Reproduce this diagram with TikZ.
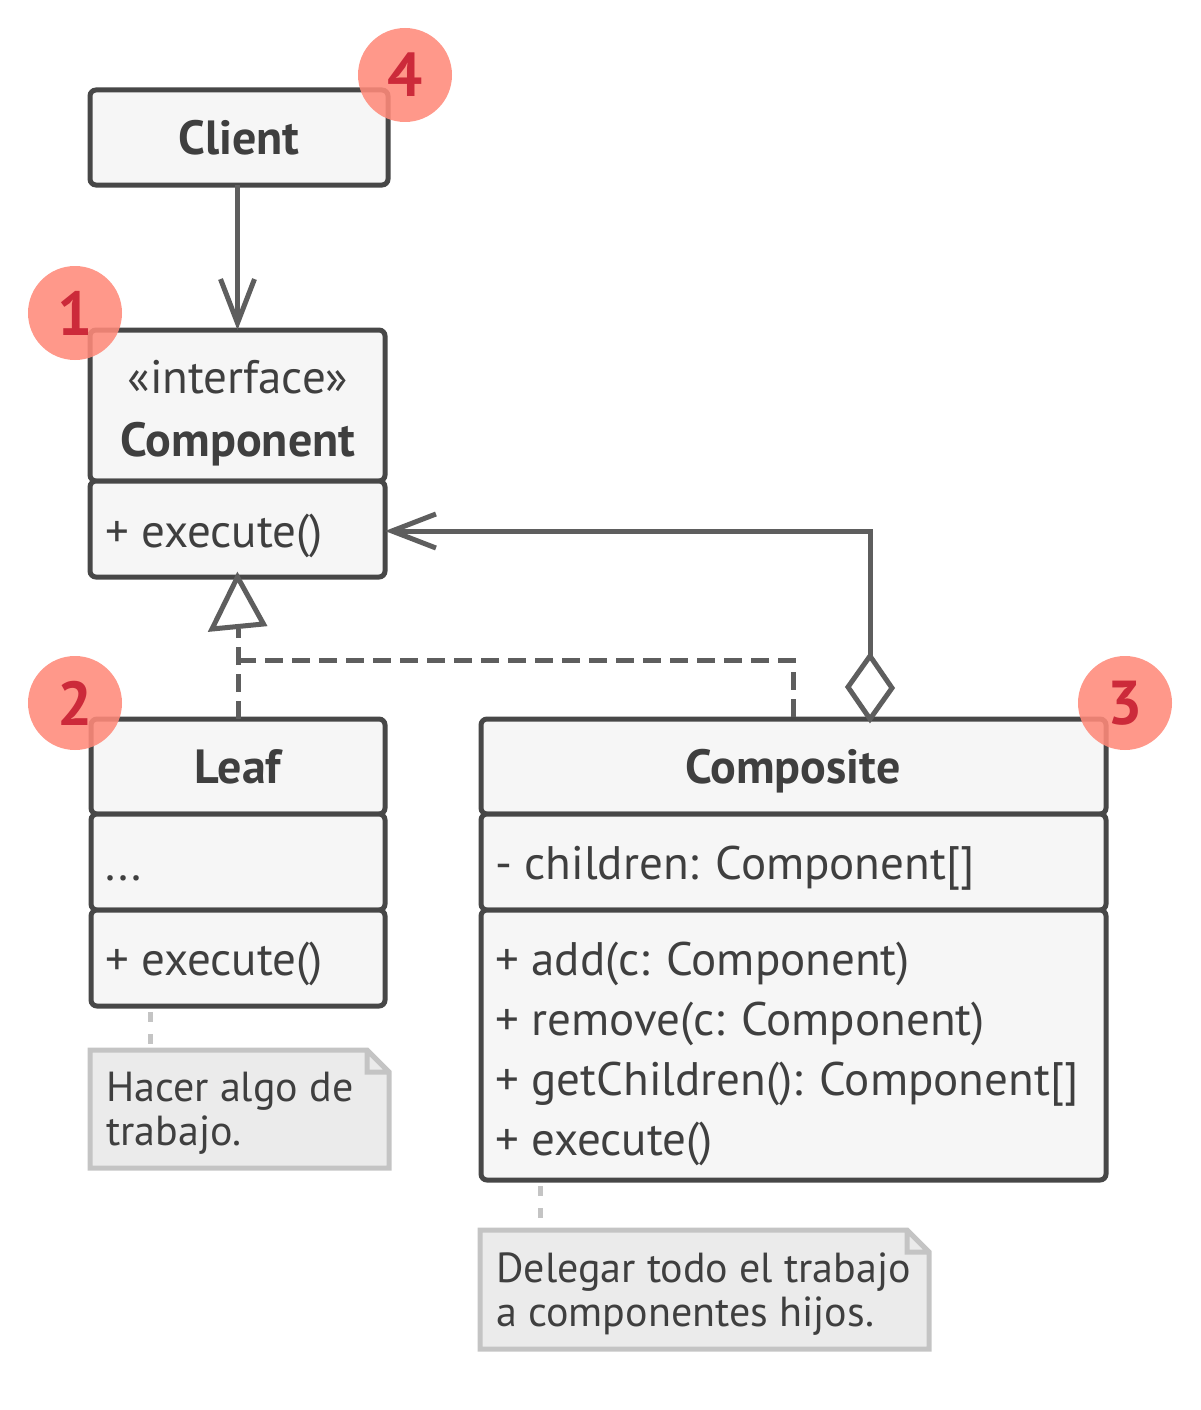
\documentclass[tikz,border=0pt]{standalone}
\usepackage{fontspec}
\setmainfont{PT Sans}
\usetikzlibrary{positioning,arrows.meta}

\definecolor{umlline}{HTML}{474747}
\definecolor{umlfill}{HTML}{F6F6F6}
\definecolor{umltext}{HTML}{3F3F3F}
\definecolor{arrowgray}{HTML}{5E5E5E}
\definecolor{notefill}{HTML}{EBEBEB}
\definecolor{noteline}{HTML}{C4C4C4}
\definecolor{badgefill}{HTML}{FF8A7A}
\definecolor{badgetext}{HTML}{CC2A3A}

\tikzset{
  compart/.style={draw=umlline, line width=5pt, fill=umlfill, rounded corners=6pt,
    inner sep=0pt, outer sep=0pt, anchor=north west},
  member/.style={anchor=base west, inner sep=0pt, text=umltext,
    font=\fontsize{47}{55}\selectfont},
  title/.style={anchor=base, inner sep=0pt, text=umltext,
    font=\fontsize{48}{56}\selectfont\bfseries},
  notetext/.style={anchor=base west, inner sep=0pt, text=umltext,
    font=\fontsize{42}{48}\selectfont},
  badge/.style={circle, fill=badgefill, fill opacity=0.88, text opacity=1,
    minimum size=94pt, inner sep=0pt, text=badgetext,
    font=\fontsize{62}{62}\selectfont\bfseries},
  link/.style={draw=arrowgray, line width=5pt},
  openhead/.style={-{Straight Barb[length=44pt, width=34pt, line width=5pt]}},
  notelink/.style={draw=noteline, line width=5pt, dash pattern=on 10pt off 12pt},
}

\begin{document}
\begin{tikzpicture}[x=1pt, y=-1pt]
  \useasboundingbox (0,0) rectangle (1200,1410);

  % Client
  \node[compart, minimum width=298pt, minimum height=95pt] (client) at (90,90) {};
  \node[title] (clientname) at (239,154) {Client};

  % Component interface
  \node[compart, minimum width=295pt, minimum height=151pt] (comphead) at (90,330) {};
  \node[compart, minimum width=295pt, minimum height=96pt] (compbody) at (90,481) {};
  \node[anchor=base, inner sep=0pt, text=umltext, font=\fontsize{47}{55}\selectfont]
    (stereo) at (238,393) {«interface»};
  \node[title] (compname) at (238,456) {Component};
  \node[member] (compexec) at (105,547) {+ execute()};

  % Leaf
  \node[compart, minimum width=294pt, minimum height=95pt] (leafhead) at (91,719) {};
  \node[compart, minimum width=294pt, minimum height=96pt] (leaffields) at (91,814) {};
  \node[compart, minimum width=294pt, minimum height=96pt] (leafops) at (91,910) {};
  \node[title] (leafname) at (238,783) {Leaf};
  \node[member] (leafdots) at (105,880) {...};
  \node[member] (leafexec) at (105,975) {+ execute()};

  % Composite
  \node[compart, minimum width=625pt, minimum height=95pt] (comphd) at (481,719) {};
  \node[compart, minimum width=625pt, minimum height=96pt] (compfields) at (481,814) {};
  \node[compart, minimum width=625pt, minimum height=270pt] (compops) at (481,910) {};
  \node[title] (compositename) at (793,783) {Composite};
  \node[member] (children) at (495,879) {- children: Component[]};
  \node[member] (addop) at (495,975) {+ add(c: Component)};
  \node[member] (removeop) at (495,1035) {+ remove(c: Component)};
  \node[member] (getop) at (495,1095) {+ getChildren(): Component[]};
  \node[member] (execop) at (495,1155) {+ execute()};

  % Notes
  \fill[notefill] (90,1050) -- (367,1050) -- (389,1072) -- (389,1168) -- (90,1168) -- cycle;
  \draw[draw=noteline, line width=5pt]
    (90,1050) -- (367,1050) -- (389,1072) -- (389,1168) -- (90,1168) -- cycle
    (367,1050) -- (367,1072) -- (389,1072);
  \node[notetext] (leafnote) at (106,1101) {Hacer algo de};
  \node[notetext] (leafnote2) at (106,1145) {trabajo.};
  \coordinate (leafnotetop) at (150,1050);

  \fill[notefill] (480,1230) -- (907,1230) -- (929,1252) -- (929,1349) -- (480,1349) -- cycle;
  \draw[draw=noteline, line width=5pt]
    (480,1230) -- (907,1230) -- (929,1252) -- (929,1349) -- (480,1349) -- cycle
    (907,1230) -- (907,1252) -- (929,1252);
  \node[notetext] (compnote) at (496,1282) {Delegar todo el trabajo};
  \node[notetext] (compnote2) at (496,1326) {a componentes hijos.};
  \coordinate (compnotetop) at (540,1230);

  \draw[notelink] (leafops.south west -| leafnotetop) ++(0,6) -- (leafnotetop);
  \draw[notelink] (compops.south west -| compnotetop) ++(0,6) -- (compnotetop);

  % Client uses Component
  \draw[link, openhead] (client.south -| comphead.north) -- (comphead.north);

  % Realization (dashed, hollow triangle)
  \coordinate (tri) at (238,629);
  \coordinate (bend) at (793,660);
  \draw[link, dash pattern=on 18pt off 9pt]
    (leafhead.north) -- (tri)
    (leafhead.north |- bend) -- (bend) -- (comphd.north -| bend);
  \draw[link, line join=miter, fill=white]
    (tri) ++(-26,0) -- (compbody.south) -- ++(26,47) -- cycle;

  % Aggregation (diamond at Composite)
  \coordinate (diamtop) at (870,656);
  \coordinate (turn) at (870,531);
  \draw[link, openhead] (diamtop) -- (turn) -- (compbody.east |- turn);
  \draw[link, fill=white, line join=miter]
    (diamtop) -- ++(22,32) -- (comphd.north -| diamtop) -- ++(-22,-32) -- cycle;

  % Step badges
  \node[badge] (badgeone) at (75,313) {1};
  \node[badge] (badgetwo) at (75,703) {2};
  \node[badge] (badgethree) at (1125,703) {3};
  \node[badge] (badgefour) at (405,75) {4};
\end{tikzpicture}
\end{document}
